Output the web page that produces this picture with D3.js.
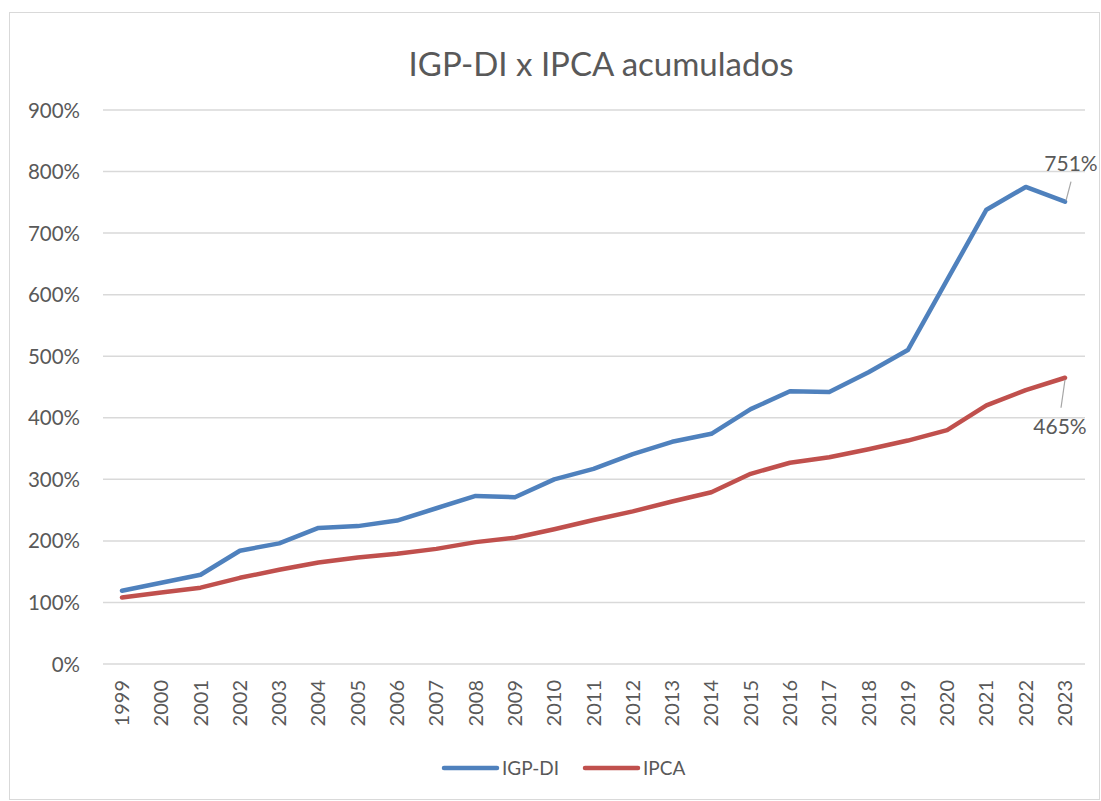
<!DOCTYPE html>
<html lang="en">
<head>
<meta charset="utf-8">
<title>IGP-DI x IPCA acumulados</title>
<script src="https://d3js.org/d3.v7.min.js"></script>
<style>
  body { margin: 0; background: #fff; }
  svg text { font-family: Lato, "Open Sans", sans-serif; fill: #595959; }
</style>
</head>
<body>
<script>
// anos e valores acumulados (%)
var years = [1999, 2000, 2001, 2002, 2003, 2004, 2005, 2006, 2007, 2008, 2009, 2010,
             2011, 2012, 2013, 2014, 2015, 2016, 2017, 2018, 2019, 2020, 2021, 2022, 2023];
var igpdi = [119, 132, 145, 184, 196, 221, 224, 233, 253, 273, 271, 300,
             317, 341, 361, 374, 414, 443, 442, 474, 510, 624, 738, 775, 751];
var ipca  = [108, 116, 124, 140, 153, 165, 173, 179, 187, 198, 205, 219,
             234, 248, 264, 279, 309, 327, 336, 349, 363, 380, 420, 445, 465];
var yTicks = [0, 100, 200, 300, 400, 500, 600, 700, 800, 900];

var width = 1101, height = 801;
var svg = d3.select("body").append("svg")
  .attr("width", width)
  .attr("height", height);

// moldura
svg.append("rect")
  .attr("x", 9.5).attr("y", 12.5)
  .attr("width", 1090).attr("height", 787)
  .attr("fill", "#fff")
  .attr("stroke", "#d9d9d9")
  .attr("stroke-width", 1);

svg.append("text")
  .attr("x", 601).attr("y", 76)
  .attr("text-anchor", "middle")
  .style("font-size", "33px")
  .text("IGP-DI x IPCA acumulados");

var x = d3.scalePoint().domain(years).range([122, 1065]);
var y = d3.scaleLinear().domain([0, 900]).range([664, 110]);

// grade
svg.append("g").selectAll("line")
  .data(yTicks)
  .enter().append("line")
  .attr("x1", 103).attr("x2", 1085)
  .attr("y1", function (d) { return y(d); })
  .attr("y2", function (d) { return y(d); })
  .attr("stroke", "#d9d9d9")
  .attr("stroke-width", 1.5);

// eixo y
svg.append("g").selectAll("text")
  .data(yTicks)
  .enter().append("text")
  .attr("x", 80)
  .attr("y", function (d) { return y(d) + 7.5; })
  .attr("text-anchor", "end")
  .style("font-size", "20.5px")
  .text(function (d) { return d + "%"; });

// eixo x (rotacionado)
svg.append("g").selectAll("text")
  .data(years)
  .enter().append("text")
  .attr("transform", function (d) { return "translate(" + x(d) + ",680) rotate(-90)"; })
  .attr("dy", "0.35em")
  .attr("text-anchor", "end")
  .style("font-size", "20px")
  .text(function (d) { return d; });

var line = d3.line()
  .x(function (d, i) { return x(years[i]); })
  .y(function (d) { return y(d); });

var series = [
  { name: "IGP-DI", values: igpdi, color: "#4f81bd" },
  { name: "IPCA", values: ipca, color: "#c0504d" }
];

svg.append("g").selectAll("path")
  .data(series)
  .enter().append("path")
  .attr("d", function (d) { return line(d.values); })
  .attr("fill", "none")
  .attr("stroke", function (d) { return d.color; })
  .attr("stroke-width", 4.5)
  .attr("stroke-linejoin", "round")
  .attr("stroke-linecap", "round");

// rótulos do último ponto
var last = years[years.length - 1];
var lx = x(last);
var ly1 = y(igpdi[igpdi.length - 1]);
var ly2 = y(ipca[ipca.length - 1]);

svg.append("line")
  .attr("x1", lx + 1).attr("y1", ly1 - 1)
  .attr("x2", lx + 6).attr("y2", ly1 - 20)
  .attr("stroke", "#a6a6a6").attr("stroke-width", 1.2);
svg.append("text")
  .attr("x", lx + 6).attr("y", ly1 - 31)
  .attr("text-anchor", "middle")
  .style("font-size", "21px")
  .text(igpdi[igpdi.length - 1] + "%");

svg.append("line")
  .attr("x1", lx).attr("y1", ly2 + 2)
  .attr("x2", lx - 4).attr("y2", ly2 + 30)
  .attr("stroke", "#a6a6a6").attr("stroke-width", 1.2);
svg.append("text")
  .attr("x", lx - 5).attr("y", ly2 + 56)
  .attr("text-anchor", "middle")
  .style("font-size", "21px")
  .text(ipca[ipca.length - 1] + "%");

// legenda
var legend = svg.append("g").selectAll("g")
  .data(series)
  .enter().append("g")
  .attr("transform", function (d, i) { return "translate(" + (443 + i * 141) + ",768)"; });
legend.append("line")
  .attr("x1", 1).attr("x2", 54)
  .attr("stroke", function (d) { return d.color; })
  .attr("stroke-width", 4.5)
  .attr("stroke-linecap", "round");
legend.append("text")
  .attr("x", 59)
  .attr("y", 6.5)
  .style("font-size", "19px")
  .text(function (d) { return d.name; });
</script>
</body>
</html>
